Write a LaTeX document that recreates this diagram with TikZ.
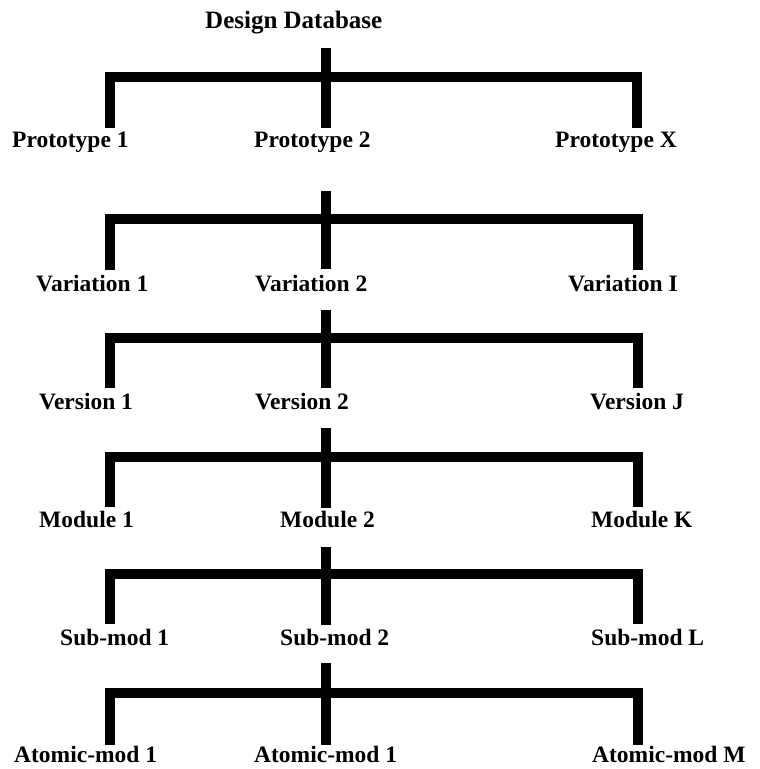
\documentclass[tikz,border=0pt]{standalone}
\usepackage{fontspec}
\setmainfont{Liberation Serif}[UprightFont=* Bold]
\begin{document}
\begin{tikzpicture}[x=1pt,y=-1pt,
  lbl/.style={anchor=base west,inner sep=0pt,font=\fontsize{23.5}{25}\selectfont},
  ttl/.style={anchor=base west,inner sep=0pt,font=\fontsize{25}{27}\selectfont},
  bracket/.style={line width=10pt,line join=miter,line cap=butt},
  stem/.style={line width=10.5pt,line cap=butt}]
\useasboundingbox (0,0) rectangle (760,769);

% title
\node[ttl] (db) at (205,28) {Design Database};

% level 1
\node[lbl] (p1) at (12,147) {Prototype 1};
\node[lbl] (p2) at (254,147) {Prototype 2};
\node[lbl] (px) at (555,147) {Prototype X};
\coordinate (s1t) at (326,48);
\coordinate (s1b) at (326,128);
\coordinate (l1a) at (110,128);
\coordinate (l1b) at (637,128);
\draw[stem] (s1t) -- (s1b);
\draw[bracket] (l1a) -- (110,77) -- (637,77) -- (l1b);

% level 2
\node[lbl] (v1) at (36,291) {Variation 1};
\node[lbl] (v2) at (255,291) {Variation 2};
\node[lbl] (vi) at (568,291) {Variation I};
\coordinate (s2t) at (326,191);
\coordinate (s2b) at (326,269);
\coordinate (l2a) at (110,270);
\coordinate (l2b) at (638,270);
\draw[stem] (s2t) -- (s2b);
\draw[bracket] (l2a) -- (110,219) -- (638,219) -- (l2b);

% level 3
\node[lbl] (r1) at (39,409) {Version 1};
\node[lbl] (r2) at (255,409) {Version 2};
\node[lbl] (rj) at (590,409) {Version J};
\coordinate (s3t) at (326,310);
\coordinate (s3b) at (326,388);
\coordinate (l3a) at (110,388);
\coordinate (l3b) at (638,388);
\draw[stem] (s3t) -- (s3b);
\draw[bracket] (l3a) -- (110,338) -- (638,338) -- (l3b);

% level 4
\node[lbl] (m1) at (39,527) {Module 1};
\node[lbl] (m2) at (280,527) {Module 2};
\node[lbl] (mk) at (591,527) {Module K};
\coordinate (s4t) at (326,428);
\coordinate (s4b) at (326,508);
\coordinate (l4a) at (110,507);
\coordinate (l4b) at (638,507);
\draw[stem] (s4t) -- (s4b);
\draw[bracket] (l4a) -- (110,457) -- (638,457) -- (l4b);

% level 5
\node[lbl] (sm1) at (60,645) {Sub-mod 1};
\node[lbl] (sm2) at (280,645) {Sub-mod 2};
\node[lbl] (sml) at (591,645) {Sub-mod L};
\coordinate (s5t) at (326,547);
\coordinate (s5b) at (326,625);
\coordinate (l5a) at (110,624);
\coordinate (l5b) at (638,624);
\draw[stem] (s5t) -- (s5b);
\draw[bracket] (l5a) -- (110,574) -- (638,574) -- (l5b);

% level 6
\node[lbl] (a1) at (14,762) {Atomic-mod 1};
\node[lbl] (a2) at (254,762) {Atomic-mod 1};
\node[lbl] (am) at (592,762) {Atomic-mod M};
\coordinate (s6t) at (326,663);
\coordinate (s6b) at (326,745);
\coordinate (l6a) at (110,745);
\coordinate (l6b) at (638,745);
\draw[stem] (s6t) -- (s6b);
\draw[bracket] (l6a) -- (110,693) -- (638,693) -- (l6b);
\end{tikzpicture}
\end{document}
